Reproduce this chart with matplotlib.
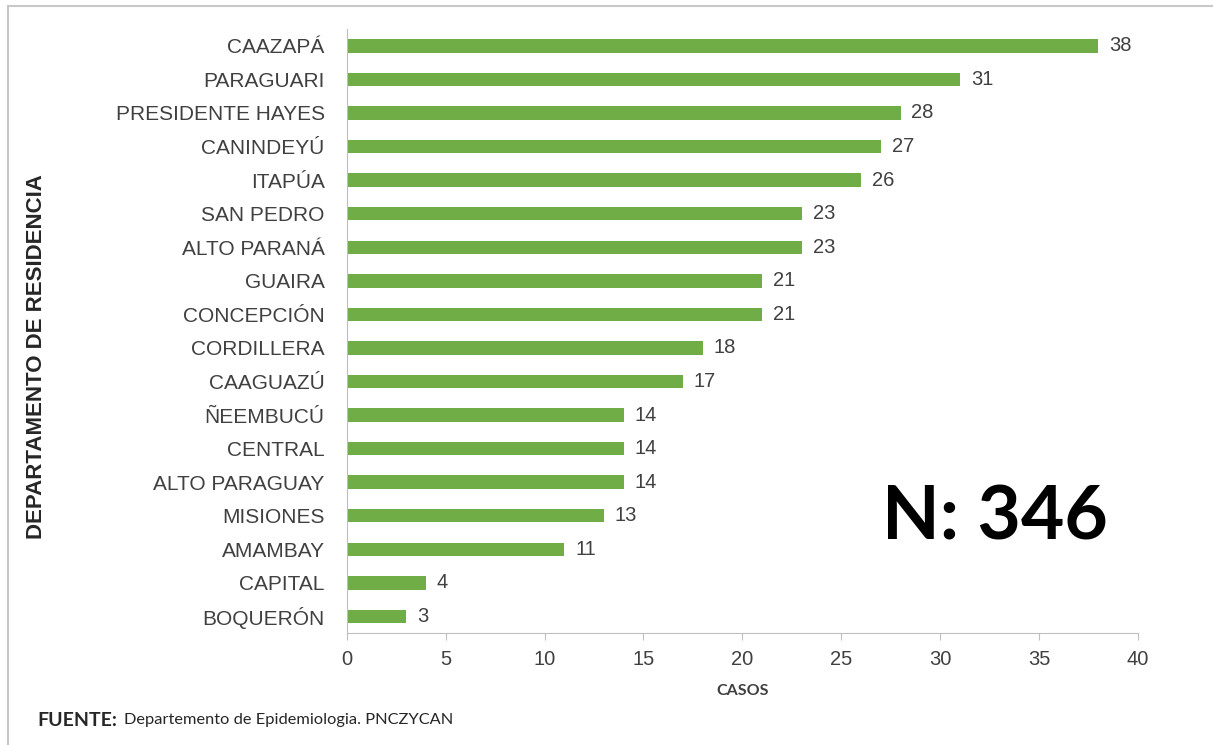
import matplotlib.pyplot as plt
from matplotlib.lines import Line2D

departamentos = ["CAAZAPÁ", "PARAGUARI", "PRESIDENTE HAYES", "CANINDEYÚ", "ITAPÚA",
                 "SAN PEDRO", "ALTO PARANÁ", "GUAIRA", "CONCEPCIÓN", "CORDILLERA",
                 "CAAGUAZÚ", "ÑEEMBUCÚ", "CENTRAL", "ALTO PARAGUAY", "MISIONES",
                 "AMAMBAY", "CAPITAL", "BOQUERÓN"]
casos = [38, 31, 28, 27, 26, 23, 23, 21, 21, 18, 17, 14, 14, 14, 13, 11, 4, 3]
x_ticks = [0, 5, 10, 15, 20, 25, 30, 35, 40]

plt.rcParams["font.family"] = ["Liberation Sans", "DejaVu Sans"]

fig = plt.figure(figsize=(12.13, 7.45), dpi=100)
ax = fig.add_axes([0.286, 0.150, 0.652, 0.811])

y = list(range(len(departamentos)))
ax.barh(y, casos, height=0.4, color="#70AD47")
for yi, v in zip(y, casos):
    ax.text(v + 0.55, yi, str(v), va="center", ha="left", fontsize=14.5, color="#404040")

ax.set_ylim(len(departamentos) - 0.5, -0.5)
ax.set_yticks(y)
ax.set_yticklabels(departamentos, fontsize=15, color="#404040")
ax.tick_params(axis="y", length=0, pad=16)
ax.set_xlim(0, 40)
ax.set_xticks(x_ticks)
ax.set_xticklabels([str(t) for t in x_ticks], fontsize=14.5, color="#404040")
ax.tick_params(axis="x", length=5, color="#BFBFBF", pad=7)

for s in ["top", "right"]:
    ax.spines[s].set_visible(False)
for s in ["left", "bottom"]:
    ax.spines[s].set_color("#BFBFBF")

ax.set_xlabel("CASOS", fontsize=11.5, fontweight="bold", family="Lato",
              color="#404040", labelpad=11)
fig.text(0.030, 0.521, "DEPARTAMENTO DE RESIDENCIA", rotation=90, fontsize=16,
         fontweight="bold", color="#262626", ha="center", va="center")

fig.text(0.820, 0.305, "N: 346", fontsize=54, fontweight="bold", family="Lato",
         ha="center", va="center", color="black")

fig.text(0.031, 0.033, "FUENTE:", fontsize=14, fontweight="bold", family="Lato",
         ha="left", va="center", color="#262626")
fig.text(0.1025, 0.033, "Departemento de Epidemiologia. PNCZYCAN", fontsize=11.8,
         family="Lato", ha="left", va="center", color="#262626")

# thin frame around the image (top and left edges)
fig.add_artist(Line2D([8 / 1213, 1], [1 - 6 / 745, 1 - 6 / 745], color="#C8C8C8", lw=1.5))
fig.add_artist(Line2D([8 / 1213, 8 / 1213], [0, 1 - 6 / 745], color="#C8C8C8", lw=1.5))

fig.savefig("out.png", dpi=100)
